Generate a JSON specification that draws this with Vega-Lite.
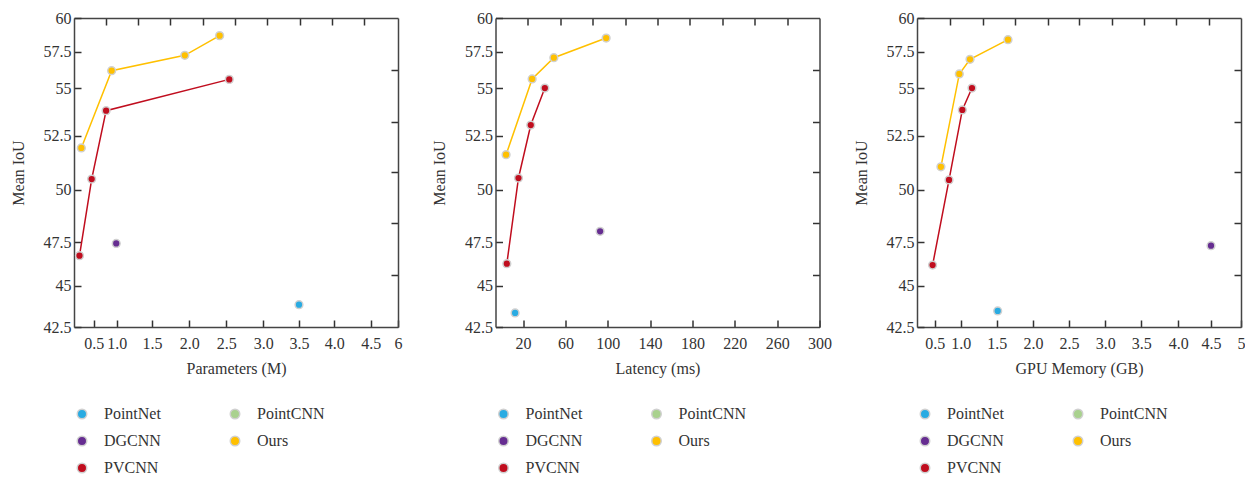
{
  "$schema": "https://vega.github.io/schema/vega-lite/v6.json",
  "padding": {"left": 10, "top": 10, "right": 0, "bottom": 0},
  "background": "white",
  "datasets": {
    "params": [
      {"method": "Ours", "x": 0.23, "iou": 51.93},
      {"method": "Ours", "x": 0.89, "iou": 56.2},
      {"method": "Ours", "x": 1.94, "iou": 57.25},
      {"method": "Ours", "x": 2.41, "iou": 58.69},
      {"method": "PVCNN", "x": 0.19, "iou": 46.72},
      {"method": "PVCNN", "x": 0.456, "iou": 50.49},
      {"method": "PVCNN", "x": 0.77, "iou": 53.82},
      {"method": "PVCNN", "x": 2.54, "iou": 55.61},
      {"method": "DGCNN", "x": 0.99, "iou": 47.42},
      {"method": "PointNet", "x": 3.5, "iou": 43.85}
    ],
    "latency": [
      {"method": "Ours", "x": 4.0, "iou": 51.62},
      {"method": "Ours", "x": 28.6, "iou": 55.64},
      {"method": "Ours", "x": 49.1, "iou": 57.09},
      {"method": "Ours", "x": 98.5, "iou": 58.51},
      {"method": "PVCNN", "x": 4.7, "iou": 46.26},
      {"method": "PVCNN", "x": 15.7, "iou": 50.54},
      {"method": "PVCNN", "x": 27.3, "iou": 53.06},
      {"method": "PVCNN", "x": 40.6, "iou": 55.02},
      {"method": "DGCNN", "x": 92.8, "iou": 48.01},
      {"method": "PointNet", "x": 12.5, "iou": 43.35}
    ],
    "memory": [
      {"method": "Ours", "x": 0.62, "iou": 51.06},
      {"method": "Ours", "x": 0.974, "iou": 55.98},
      {"method": "Ours", "x": 1.13, "iou": 56.98},
      {"method": "Ours", "x": 1.656, "iou": 58.39},
      {"method": "PVCNN", "x": 0.46, "iou": 46.18},
      {"method": "PVCNN", "x": 0.776, "iou": 50.45},
      {"method": "PVCNN", "x": 1.023, "iou": 53.86},
      {"method": "PVCNN", "x": 1.157, "iou": 55.02},
      {"method": "DGCNN", "x": 4.5, "iou": 47.29},
      {"method": "PointNet", "x": 1.514, "iou": 43.47}
    ]
  },
  "hconcat": [
    {
      "width": 324, "height": 309,
      "data": {"name": "params"},
      "layer": [
        {
          "transform": [{"filter": "datum.method == 'Ours' || datum.method == 'PVCNN'"}],
          "mark": {"type": "line", "strokeWidth": 1.5},
          "encoding": {
            "x": {"field": "x", "type": "quantitative",
              "scale": {"domain": [0.07, 0.5, 1, 1.5, 2, 2.5, 3, 3.5, 4, 4.5, 6], "range": [0, 19.7, 42.7, 78, 115.3, 152.3, 189.3, 225, 260.3, 296.7, 324], "nice": false, "zero": false},
              "axis": {"orient": "top", "values": [0.765, 1.3, 1.745, 2.18, 2.617, 3.056, 3.51, 3.967, 4.413], "labels": false, "title": null}},
            "y": {"field": "iou", "type": "quantitative",
              "scale": {"domain": [42.5, 45, 47.5, 50, 52.5, 55, 57.5, 60], "range": [309, 267.67, 224, 171.67, 117.67, 70.33, 33.67, 0], "nice": false, "zero": false},
              "axis": {"orient": "right", "values": [56.25, 53.24, 50.8, 48.39, 45.62], "labels": false, "title": null}},
            "stroke": {"field": "method", "type": "nominal", "legend": null,
              "scale": {"domain": ["Ours", "PVCNN"], "range": ["#ffc000", "#c00d1e"]}},
            "order": {"field": "x", "type": "quantitative"}
          }
        },
        {
          "mark": {"type": "point", "filled": true, "size": 60, "stroke": "#d0d0d0", "strokeWidth": 1.5, "opacity": 1},
          "encoding": {
            "x": {"field": "x", "type": "quantitative",
              "scale": {"domain": [0.07, 0.5, 1, 1.5, 2, 2.5, 3, 3.5, 4, 4.5, 6], "range": [0, 19.7, 42.7, 78, 115.3, 152.3, 189.3, 225, 260.3, 296.7, 324], "nice": false, "zero": false},
              "axis": {"orient": "bottom", "values": [0.5, 1, 1.5, 2, 2.5, 3, 3.5, 4, 4.5, 6], "labelExpr": "datum.value == 6 ? '6' : format(datum.value, '.1f')", "title": "Parameters (M)"}},
            "y": {"field": "iou", "type": "quantitative",
              "scale": {"domain": [42.5, 45, 47.5, 50, 52.5, 55, 57.5, 60], "range": [309, 267.67, 224, 171.67, 117.67, 70.33, 33.67, 0], "nice": false, "zero": false},
              "axis": {"orient": "left", "values": [42.5, 45, 47.5, 50, 52.5, 55, 57.5, 60], "labelExpr": "'' + datum.value", "title": "Mean IoU"}},
            "color": {"field": "method", "type": "nominal",
              "scale": {"domain": ["PointNet", "DGCNN", "PVCNN", "PointCNN", "Ours"], "range": ["#29abe2", "#662d91", "#c00d1e", "#a9d18e", "#ffc000"]},
              "legend": {"orient": "none", "legendX": 0, "legendY": 388, "columns": 2, "title": null}}
          }
        }
      ],
      "resolve": {"axis": {"x": "independent", "y": "independent"}}
    },
    {
      "width": 324, "height": 309,
      "data": {"name": "latency"},
      "layer": [
        {
          "transform": [{"filter": "datum.method == 'Ours' || datum.method == 'PVCNN'"}],
          "mark": {"type": "line", "strokeWidth": 1.5},
          "encoding": {
            "x": {"field": "x", "type": "quantitative",
              "scale": {"domain": [-6, 300], "nice": false, "zero": false},
              "axis": {"orient": "top", "values": [24.6, 55.2, 85.8, 116.4, 147, 177.6, 208.2, 238.8, 269.4], "labels": false, "title": null}},
            "y": {"field": "iou", "type": "quantitative",
              "scale": {"domain": [42.5, 45, 47.5, 50, 52.5, 55, 57.5, 60], "range": [309, 267.67, 224, 171.67, 117.67, 70.33, 33.67, 0], "nice": false, "zero": false},
              "axis": {"orient": "right", "values": [56.25, 53.24, 50.8, 48.39, 45.62], "labels": false, "title": null}},
            "stroke": {"field": "method", "type": "nominal", "legend": null,
              "scale": {"domain": ["Ours", "PVCNN"], "range": ["#ffc000", "#c00d1e"]}},
            "order": {"field": "x", "type": "quantitative"}
          }
        },
        {
          "mark": {"type": "point", "filled": true, "size": 60, "stroke": "#d0d0d0", "strokeWidth": 1.5, "opacity": 1},
          "encoding": {
            "x": {"field": "x", "type": "quantitative",
              "scale": {"domain": [-6, 300], "nice": false, "zero": false},
              "axis": {"orient": "bottom", "values": [20, 60, 100, 140, 180, 220, 260, 300], "title": "Latency (ms)"}},
            "y": {"field": "iou", "type": "quantitative",
              "scale": {"domain": [42.5, 45, 47.5, 50, 52.5, 55, 57.5, 60], "range": [309, 267.67, 224, 171.67, 117.67, 70.33, 33.67, 0], "nice": false, "zero": false},
              "axis": {"orient": "left", "values": [42.5, 45, 47.5, 50, 52.5, 55, 57.5, 60], "labelExpr": "'' + datum.value", "title": "Mean IoU"}},
            "color": {"field": "method", "type": "nominal",
              "scale": {"domain": ["PointNet", "DGCNN", "PVCNN", "PointCNN", "Ours"], "range": ["#29abe2", "#662d91", "#c00d1e", "#a9d18e", "#ffc000"]},
              "legend": {"orient": "none", "legendX": 0, "legendY": 388, "columns": 2, "title": null}}
          }
        }
      ],
      "resolve": {"axis": {"x": "independent", "y": "independent"}}
    },
    {
      "width": 324, "height": 309,
      "data": {"name": "memory"},
      "layer": [
        {
          "transform": [{"filter": "datum.method == 'Ours' || datum.method == 'PVCNN'"}],
          "mark": {"type": "line", "strokeWidth": 1.5},
          "encoding": {
            "x": {"field": "x", "type": "quantitative",
              "scale": {"domain": [0.16, 0.5, 1, 1.5, 2, 2.5, 3, 3.5, 4, 4.5, 5], "range": [0, 17.67, 43.67, 79.67, 116, 152, 188.33, 224.33, 261.33, 294, 324], "nice": false, "zero": false},
              "axis": {"orient": "top", "values": [0.801, 1.306, 1.752, 2.204, 2.642, 3.088, 3.536, 3.973, 4.464], "labels": false, "title": null}},
            "y": {"field": "iou", "type": "quantitative",
              "scale": {"domain": [42.5, 45, 47.5, 50, 52.5, 55, 57.5, 60], "range": [309, 267.67, 224, 171.67, 117.67, 70.33, 33.67, 0], "nice": false, "zero": false},
              "axis": {"orient": "right", "values": [56.25, 53.24, 50.8, 48.39, 45.62], "labels": false, "title": null}},
            "stroke": {"field": "method", "type": "nominal", "legend": null,
              "scale": {"domain": ["Ours", "PVCNN"], "range": ["#ffc000", "#c00d1e"]}},
            "order": {"field": "x", "type": "quantitative"}
          }
        },
        {
          "mark": {"type": "point", "filled": true, "size": 60, "stroke": "#d0d0d0", "strokeWidth": 1.5, "opacity": 1},
          "encoding": {
            "x": {"field": "x", "type": "quantitative",
              "scale": {"domain": [0.16, 0.5, 1, 1.5, 2, 2.5, 3, 3.5, 4, 4.5, 5], "range": [0, 17.67, 43.67, 79.67, 116, 152, 188.33, 224.33, 261.33, 294, 324], "nice": false, "zero": false},
              "axis": {"orient": "bottom", "values": [0.5, 1, 1.5, 2, 2.5, 3, 3.5, 4, 4.5, 5], "labelExpr": "datum.value == 5 ? '5' : format(datum.value, '.1f')", "title": "GPU Memory (GB)"}},
            "y": {"field": "iou", "type": "quantitative",
              "scale": {"domain": [42.5, 45, 47.5, 50, 52.5, 55, 57.5, 60], "range": [309, 267.67, 224, 171.67, 117.67, 70.33, 33.67, 0], "nice": false, "zero": false},
              "axis": {"orient": "left", "values": [42.5, 45, 47.5, 50, 52.5, 55, 57.5, 60], "labelExpr": "'' + datum.value", "title": "Mean IoU"}},
            "color": {"field": "method", "type": "nominal",
              "scale": {"domain": ["PointNet", "DGCNN", "PVCNN", "PointCNN", "Ours"], "range": ["#29abe2", "#662d91", "#c00d1e", "#a9d18e", "#ffc000"]},
              "legend": {"orient": "none", "legendX": 0, "legendY": 388, "columns": 2, "title": null}}
          }
        }
      ],
      "resolve": {"axis": {"x": "independent", "y": "independent"}}
    }
  ],
  "spacing": 97.5,
  "bounds": "flush",
  "resolve": {"legend": {"color": "independent"}},
  "config": {
    "font": "Liberation Serif",
    "view": {"stroke": null},
    "axis": {
      "grid": false,
      "domainColor": "#444",
      "domainWidth": 1.5,
      "tickColor": "#333",
      "tickWidth": 1.5,
      "tickSize": -7,
      "labelFont": "Liberation Serif",
      "labelFontSize": 16,
      "labelColor": "#333",
      "labelPadding": 10,
      "labelOverlap": false,
      "labelFlush": false,
      "labelBound": false,
      "titleFont": "Liberation Serif",
      "titleFontSize": 16,
      "titleFontWeight": "normal",
      "titleColor": "#333",
      "titlePadding": 17
    },
    "axisBottom": {"labelPadding": 15, "titlePadding": 9},
    "legend": {
      "labelFont": "Liberation Serif",
      "labelFontSize": 16,
      "labelColor": "#333",
      "symbolType": "circle",
      "symbolSize": 90,
      "symbolStrokeColor": "#d0d0d0",
      "symbolStrokeWidth": 1.5,
      "labelOffset": 14,
      "columnPadding": 66,
      "rowPadding": 11
    }
  }
}
